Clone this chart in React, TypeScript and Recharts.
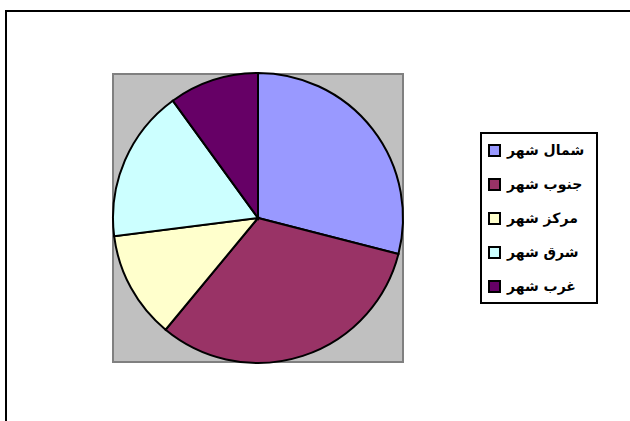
import React from "react";
import { PieChart, Pie, Cell, Legend } from "recharts";

const categories = ["شمال شهر", "جنوب شهر", "مركز شهر", "شرق شهر", "غرب شهر"];
const values = [29, 32, 12, 17, 10];
const colors = ["#9999FF", "#993366", "#FFFFCC", "#CCFFFF", "#660066"];

const data = categories.map((name, i) => ({ name, value: values[i] }));

const LegendBox = () => (
  <div
    style={{
      position: "relative",
      width: 114,
      height: 168,
      border: "2px solid #000",
      background: "#fff",
      boxSizing: "content-box",
    }}
  >
    {categories.map((name, i) => (
      <div
        key={name}
        style={{
          position: "absolute",
          left: 6,
          top: 7 + i * 34,
          height: 18,
          display: "flex",
          alignItems: "center",
        }}
      >
        <div
          style={{
            width: 9,
            height: 9,
            border: "2px solid #000",
            background: colors[i],
          }}
        />
        <span
          style={{
            marginLeft: 6,
            fontFamily: "'DejaVu Sans', sans-serif",
            fontWeight: "bold",
            fontSize: 14,
            direction: "rtl",
            color: "#000",
            whiteSpace: "nowrap",
          }}
        >
          {name}
        </span>
      </div>
    ))}
  </div>
);

export default function App() {
  return (
    <div style={{ position: "absolute", left: 0, top: 0, width: 630, height: 421, background: "#fff" }}>
      <div
        style={{
          position: "absolute",
          left: 5,
          top: 10,
          width: 625,
          height: 411,
          borderLeft: "2px solid #000",
          borderTop: "2px solid #000",
          boxSizing: "border-box",
        }}
      />
      <div
        style={{
          position: "absolute",
          left: 112,
          top: 73,
          width: 292,
          height: 290,
          background: "#C0C0C0",
          border: "2px solid #808080",
          boxSizing: "border-box",
        }}
      />
      <div style={{ position: "absolute", left: 0, top: 0 }}>
        <PieChart width={630} height={421} margin={{ top: 0, right: 0, bottom: 0, left: 0 }}>
          <Pie
            data={data}
            dataKey="value"
            nameKey="name"
            cx={258}
            cy={218}
            outerRadius={145}
            startAngle={90}
            endAngle={-270}
            stroke="#000"
            strokeWidth={2}
            isAnimationActive={false}
          >
            {data.map((d, i) => (
              <Cell key={d.name} fill={colors[i]} />
            ))}
          </Pie>
          <Legend
            content={<LegendBox />}
            wrapperStyle={{ position: "absolute", left: 480, top: 132, width: 118, height: 172 }}
          />
        </PieChart>
      </div>
    </div>
  );
}
